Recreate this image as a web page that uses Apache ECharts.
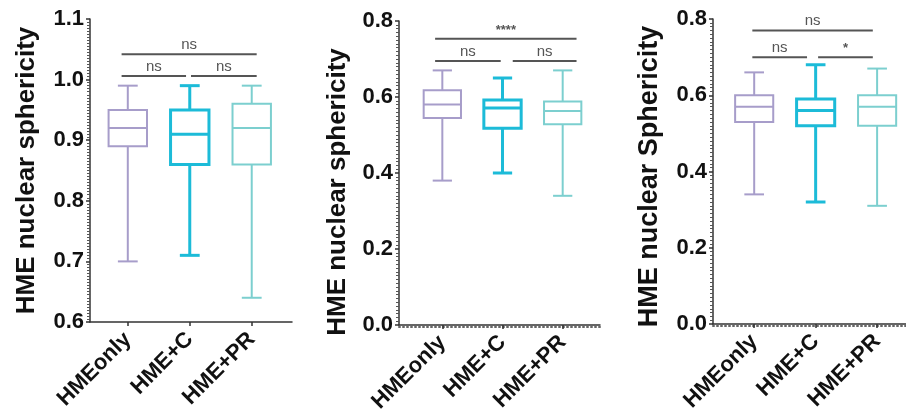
<!DOCTYPE html>
<html>
<head>
<meta charset="utf-8">
<script src="https://cdn.jsdelivr.net/npm/echarts@6/dist/echarts.min.js"></script>
<style>
  html, body { margin: 0; padding: 0; background: #fff; }
  #chart { width: 906px; height: 417px; }
</style>
</head>
<body>
<div id="chart"></div>
<script>
const categories = ['HMEonly', 'HME+C', 'HME+PR'];
const boxColors = ['#a79dca', '#1cbbd8', '#7ccfcf'];
const boxWidths = [2, 3, 2];

// panel 1 - HME nuclear sphericity (0.6 - 1.1)
const p1Min = [0.70, 0.71, 0.64];
const p1Q1 = [0.89, 0.86, 0.86];
const p1Median = [0.92, 0.91, 0.92];
const p1Q3 = [0.95, 0.95, 0.96];
const p1Max = [0.99, 0.99, 0.99];
const p1Brackets = [[-0.1, 2.08, 1.042], [-0.1, 0.94, 1.006], [1.02, 2.08, 1.006]];
const p1Marks = ['ns', 'ns', 'ns'];

// panel 2
const p2Min = [0.38, 0.40, 0.34];
const p2Q1 = [0.545, 0.518, 0.528];
const p2Median = [0.58, 0.571, 0.563];
const p2Q3 = [0.618, 0.592, 0.588];
const p2Max = [0.67, 0.65, 0.67];
const p2Brackets = [[-0.12, 2.23, 0.753], [-0.12, 0.97, 0.695], [1.17, 2.23, 0.695]];
const p2Marks = ['****', 'ns', 'ns'];

// panel 3
const p3Min = [0.34, 0.32, 0.31];
const p3Q1 = [0.53, 0.52, 0.52];
const p3Median = [0.57, 0.56, 0.57];
const p3Q3 = [0.60, 0.59, 0.60];
const p3Max = [0.66, 0.68, 0.67];
const p3Brackets = [[-0.03, 1.93, 0.77], [-0.03, 0.86, 0.70], [1.04, 1.93, 0.70]];
const p3Marks = ['ns', 'ns', '*'];

const font = 'Liberation Sans, Arial, sans-serif';

const panels = [
  {grid: {left: 90, top: 19, width: 202, height: 303}, xMin: -0.61, xMax: 2.65,
   yMin: 0.6, yMax: 1.1, yStep: 0.1, name: 'HME nuclear sphericity', nameGap: 50, namePad: [0, 0, 0, 0],
   nameSize: 26, dotted: false, mins: p1Min, q1: p1Q1, med: p1Median, q3: p1Q3, maxs: p1Max,
   brackets: p1Brackets, marks: p1Marks},
  {grid: {left: 399, top: 21, width: 201, height: 304}, xMin: -0.72, xMax: 2.62,
   yMin: 0, yMax: 0.8, yStep: 0.2, name: 'HME nuclear sphericity', nameGap: 48, namePad: [0, 38, 0, 0],
   nameSize: 26, dotted: true, mins: p2Min, q1: p2Q1, med: p2Median, q3: p2Q3, maxs: p2Max,
   brackets: p2Brackets, marks: p2Marks},
  {grid: {left: 713, top: 19, width: 193, height: 305}, xMin: -0.67, xMax: 2.47,
   yMin: 0, yMax: 0.8, yStep: 0.2, name: 'HME nuclear Sphericity', nameGap: 50, namePad: [0, 10, 0, 0],
   nameSize: 27, dotted: true, mins: p3Min, q1: p3Q1, med: p3Median, q3: p3Q3, maxs: p3Max,
   brackets: p3Brackets, marks: p3Marks}
];

const grids = [], xAxes = [], yAxes = [], series = [];

panels.forEach((p, k) => {
  grids.push(p.grid);
  xAxes.push({
    type: 'value', gridIndex: k, min: p.xMin, max: p.xMax, position: 'bottom',
    splitLine: {show: false},
    axisLine: {show: true, onZero: false, lineStyle: {color: '#333', width: 1.5}},
    axisTick: {show: true, length: 4, customValues: [0, 1, 2], lineStyle: {color: '#333', width: 1.5}},
    axisLabel: {
      customValues: [0, 1, 2], rotate: 45, margin: 14,
      formatter: v => categories[Math.round(v)],
      fontFamily: font, fontWeight: 'bold', fontSize: 22, color: '#111'
    }
  });
  yAxes.push({
    type: 'value', gridIndex: k, min: p.yMin, max: p.yMax, interval: p.yStep, position: 'left',
    name: p.name, nameLocation: 'middle', nameGap: p.nameGap,
    nameTextStyle: {fontFamily: font, fontWeight: 'bold', fontSize: p.nameSize, color: '#111', padding: p.namePad},
    splitLine: {show: false},
    axisLine: {show: true, onZero: false, lineStyle: {color: '#333', width: 1.5}},
    axisTick: {show: true, length: 4, lineStyle: {color: '#333', width: 1.5}},
    minorTick: {show: true, splitNumber: 20, length: 3, lineStyle: {color: '#555', width: 1}},
    axisLabel: {
      margin: 6, formatter: v => v.toFixed(1),
      fontFamily: font, fontWeight: 'bold', fontSize: 22, color: '#111'
    }
  });

  // dotted look just below the x axis line
  if (p.dotted) {
    xAxes.push({
      type: 'value', gridIndex: k, min: p.xMin, max: p.xMax, position: 'bottom', offset: 2,
      splitLine: {show: false}, axisTick: {show: false}, axisLabel: {show: false},
      axisLine: {show: true, onZero: false, lineStyle: {color: '#666', width: 2, type: [1, 3]}}
    });
  }
  const xIdx = xAxes.length - (p.dotted ? 2 : 1);

  series.push({
    type: 'custom',
    xAxisIndex: xIdx, yAxisIndex: k,
    data: categories.map((c, i) => [i, p.mins[i], p.q1[i], p.med[i], p.q3[i], p.maxs[i]]),
    renderItem: function (params, api) {
      const i = params.dataIndex;
      const x = api.value(0);
      const unit = api.size([1, 0])[0];
      const hb = unit * 0.31, hc = unit * 0.16;
      const pMin = api.coord([x, api.value(1)]);
      const pQ1 = api.coord([x, api.value(2)]);
      const pMed = api.coord([x, api.value(3)]);
      const pQ3 = api.coord([x, api.value(4)]);
      const pMax = api.coord([x, api.value(5)]);
      const style = {stroke: boxColors[i], lineWidth: boxWidths[i], fill: null};
      const cx = pMed[0];
      return {
        type: 'group',
        children: [
          {type: 'line', shape: {x1: cx, y1: pQ3[1], x2: cx, y2: pMax[1]}, style: style},
          {type: 'line', shape: {x1: cx, y1: pQ1[1], x2: cx, y2: pMin[1]}, style: style},
          {type: 'line', shape: {x1: cx - hc, y1: pMax[1], x2: cx + hc, y2: pMax[1]}, style: style},
          {type: 'line', shape: {x1: cx - hc, y1: pMin[1], x2: cx + hc, y2: pMin[1]}, style: style},
          {type: 'rect', shape: {x: cx - hb, y: pQ3[1], width: hb * 2, height: pQ1[1] - pQ3[1]},
           style: {stroke: boxColors[i], lineWidth: boxWidths[i], fill: '#fff'}},
          {type: 'line', shape: {x1: cx - hb, y1: pMed[1], x2: cx + hb, y2: pMed[1]}, style: style}
        ]
      };
    }
  });

  series.push({
    type: 'custom',
    xAxisIndex: xIdx, yAxisIndex: k,
    data: p.brackets,
    renderItem: function (params, api) {
      const a = api.coord([api.value(0), api.value(2)]);
      const b = api.coord([api.value(1), api.value(2)]);
      const mark = p.marks[params.dataIndex];
      return {
        type: 'group',
        children: [
          {type: 'line', shape: {x1: a[0], y1: a[1], x2: b[0], y2: b[1]},
           style: {stroke: '#555', lineWidth: 2}},
          {type: 'text', x: (a[0] + b[0]) / 2, y: a[1] - 2,
           style: {text: mark, fill: '#555', font: (mark === 'ns' ? '15px ' : 'bold 13px ') + font,
                   align: 'center', verticalAlign: 'bottom'}}
        ]
      };
    }
  });
});

const chart = echarts.init(document.getElementById('chart'));
chart.setOption({
  animation: false,
  backgroundColor: '#fff',
  grid: grids,
  xAxis: xAxes,
  yAxis: yAxes,
  series: series
});
</script>
</body>
</html>
